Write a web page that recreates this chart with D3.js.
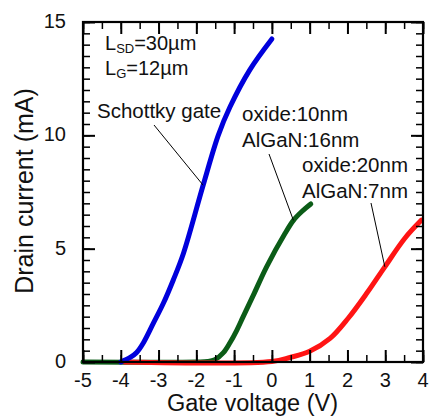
<!DOCTYPE html>
<html>
<head>
<meta charset="utf-8">
<script src="https://cdn.jsdelivr.net/npm/d3@7"></script>
<style>
  body { margin: 0; background: #fff; }
  text { font-family: "Liberation Sans", Arial, sans-serif; fill: #111; }
</style>
</head>
<body>
<div id="chart"></div>
<script>
// Gate voltage (V) and drain current (mA)
const schottkyV = [-4.0, -3.93, -3.75, -3.58, -3.4, -3.14, -2.87, -2.61, -2.34, -1.82, -1.42, -1.11, -0.58, 0.0]
const schottkyI = [0, 0.06, 0.2, 0.42, 0.85, 1.7, 2.6, 3.62, 4.8, 7.8, 10.0, 11.25, 12.9, 14.25]

const oxide10V = [-5, -2, -1.7, -1.51, -1.29, -1.11, -0.93, -0.76, -0.49, -0.14, 0.35, 0.57, 0.8, 1.03]
const oxide10I = [0, 0, 0.02, 0.1, 0.4, 0.85, 1.4, 2.0, 2.95, 4.2, 5.68, 6.25, 6.65, 6.97]

const oxide20V = [-3.9, 0, 0.48, 1.0, 1.54, 2.02, 2.51, 2.99, 3.52, 3.96]
const oxide20I = [0, 0.02, 0.2, 0.47, 1.04, 1.93, 3.03, 4.2, 5.46, 6.26]

const xTicks = [-5, -4, -3, -2, -1, 0, 1, 2, 3, 4]
const yTicks = [0, 5, 10, 15]

// Setup
width = 433
height = 418
margin = {left: 83, right: 10, top: 22, bottom: 56}

svg = d3.select("#chart")
        .append("svg")
        .attr("width", width)
        .attr("height", height)

x = d3.scaleLinear().domain([-5, 4]).range([margin.left, width - margin.right])
y = d3.scaleLinear().domain([0, 15]).range([height - margin.bottom, margin.top])

line = d3.line()
         .x(d => x(d[0]))
         .y(d => y(d[1]))
         .curve(d3.curveCatmullRom.alpha(0.5))

// Curves
series = [
    {v: oxide10V, i: oxide10I, color: "#0b5c17"},
    {v: oxide20V, i: oxide20I, color: "#ff1414"},
    {v: schottkyV, i: schottkyI, color: "#0000dc"}
]
series.forEach(function(s) {
    svg.append("path")
        .datum(d3.zip(s.v, s.i))
        .attr("fill", "none")
        .attr("stroke", s.color)
        .attr("stroke-width", 5)
        .attr("stroke-linecap", "round")
        .attr("stroke-linejoin", "round")
        .attr("d", line)
})

// Axes: ticks on all four sides, pointing inward
plotW = x.range()[1] - x.range()[0]
plotH = y.range()[0] - y.range()[1]

function tickAxis(axis, scale, pos, vals, size, sw) {
    g = svg.append("g").attr("transform", pos)
    g.call(axis(scale).tickValues(vals).tickSize(-size).tickFormat(""))
    g.selectAll("line").attr("stroke-width", sw)
    g.select(".domain").remove()
}
xMinor = d3.range(-5, 4.01, 0.5)
yMinor = d3.range(0, 15.01, 0.5)

tickAxis(d3.axisBottom, x, `translate(0,${y(0)})`, xMinor, 7, 1.5)
tickAxis(d3.axisTop, x, `translate(0,${y(15)})`, xMinor, 7, 1.5)
tickAxis(d3.axisLeft, y, `translate(${x(-5)},0)`, yMinor, 7, 1.5)
tickAxis(d3.axisRight, y, `translate(${x(4)},0)`, yMinor, 7, 1.5)

// major ticks
tickAxis(d3.axisBottom, x, `translate(0,${y(0)})`, xTicks, 12, 2)
tickAxis(d3.axisTop, x, `translate(0,${y(15)})`, xTicks, 12, 2)
tickAxis(d3.axisLeft, y, `translate(${x(-5)},0)`, yTicks, 12, 2)
tickAxis(d3.axisRight, y, `translate(${x(4)},0)`, yTicks, 12, 2)

svg.append("rect")
    .attr("x", x(-5))
    .attr("y", y(15))
    .attr("width", plotW)
    .attr("height", plotH)
    .attr("fill", "none")
    .attr("stroke", "#000")
    .attr("stroke-width", 2.2)

// Tick labels
svg.append("g")
    .selectAll("text")
    .data(xTicks)
    .join("text")
        .attr("x", d => x(d))
        .attr("y", 387)
        .attr("text-anchor", "middle")
        .style("font-size", "20px")
        .text(d => d)

svg.append("g")
    .selectAll("text")
    .data(yTicks)
    .join("text")
        .attr("x", 66)
        .attr("y", d => y(d) + 6)
        .attr("text-anchor", "end")
        .style("font-size", "20px")
        .text(d => d)

// Axis titles
svg.append("text")
    .attr("x", 252.5)
    .attr("y", 411)
    .attr("text-anchor", "middle")
    .style("font-size", "23.5px")
    .text("Gate voltage (V)")

svg.append("text")
    .attr("transform", "translate(33,191) rotate(-90)")
    .attr("text-anchor", "middle")
    .style("font-size", "25px")
    .text("Drain current (mA)")

// Device dimensions
function subLabel(tx, ty, main, sub, rest) {
    t = svg.append("text")
        .attr("x", tx)
        .attr("y", ty)
        .style("font-size", "20px")
    t.append("tspan").text(main)
    t.append("tspan").attr("dy", 3).style("font-size", "13px").text(sub)
    t.append("tspan").attr("dy", -3).text(rest)
}
subLabel(105, 50, "L", "SD", "=30\u00b5m")
subLabel(105, 75, "L", "G", "=12\u00b5m")

// Curve annotations
notes = [
    {lines: ["Schottky gate"], tx: 97, ty: 118, from: [154, 125], to: [-1.82, 7.8]},
    {lines: ["oxide:10nm", "AlGaN:16nm"], tx: 242, ty: 121, from: [269, 154], to: [0.57, 6.25]},
    {lines: ["oxide:20nm", "AlGaN:7nm"], tx: 302, ty: 172, from: [371, 203], to: [2.99, 4.2]}
]
notes.forEach(function(n) {
    n.lines.forEach(function(l, k) {
        svg.append("text")
            .attr("x", n.tx)
            .attr("y", n.ty + k * 25.5)
            .style("font-size", "20.5px")
            .text(l)
    })
    svg.append("line")
        .attr("x1", n.from[0])
        .attr("y1", n.from[1])
        .attr("x2", x(n.to[0]))
        .attr("y2", y(n.to[1]))
        .attr("stroke", "#000")
        .attr("stroke-width", 1)
})
</script>
</body>
</html>
